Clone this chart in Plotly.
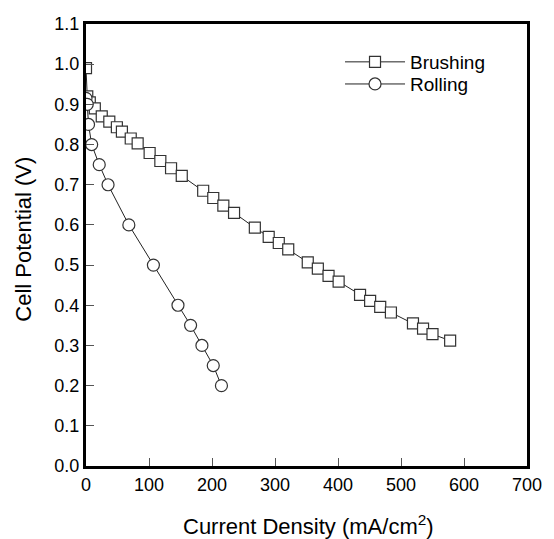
import plotly.graph_objects as go

brush_x = [0, 2, 6, 14, 25, 37, 49, 57, 71, 82, 101, 118, 135, 152, 186, 202, 218, 235,
           268, 290, 306, 321, 352, 368, 385, 401, 435, 451, 467, 484, 519, 535, 550, 578]
brush_y = [0.99, 0.92, 0.905, 0.89, 0.87, 0.857, 0.843, 0.832, 0.815, 0.803, 0.779, 0.759,
           0.741, 0.722, 0.685, 0.667, 0.648, 0.630, 0.593, 0.570, 0.555, 0.539, 0.507,
           0.491, 0.473, 0.459, 0.426, 0.411, 0.396, 0.382, 0.355, 0.342, 0.328, 0.312]

roll_x = [0, 2, 4, 9, 21, 35, 68, 107, 146, 166, 184, 202, 215]
roll_y = [0.915, 0.90, 0.85, 0.80, 0.75, 0.70, 0.60, 0.50, 0.40, 0.35, 0.30, 0.25, 0.20]

x_ticks = [0, 100, 200, 300, 400, 500, 600, 700]
y_ticks = [0.0, 0.1, 0.2, 0.3, 0.4, 0.5, 0.6, 0.7, 0.8, 0.9, 1.0, 1.1]

x_title = "Current Density (mA/cm<sup>2</sup>)"
y_title = "Cell Potential (V)"

font = "Liberation Sans, Arial, sans-serif"

fig = go.Figure()
fig.add_trace(go.Scatter(
    x=brush_x, y=brush_y, mode="lines+markers", name="Brushing", legend="legend",
    line=dict(color="#222", width=1),
    marker=dict(symbol="square", size=11, color="white", line=dict(color="#333", width=1.2)),
))
fig.add_trace(go.Scatter(
    x=roll_x, y=roll_y, mode="lines+markers", name="Rolling", legend="legend2",
    line=dict(color="#222", width=1),
    marker=dict(symbol="circle", size=12, color="white", line=dict(color="#333", width=1.2)),
))

axis_common = dict(
    showgrid=False, zeroline=False, showline=True, linecolor="black", linewidth=3,
    mirror=True, ticks="inside", ticklen=8, tickcolor="#555", tickwidth=1,
    tickfont=dict(family=font, size=18, color="black"), automargin=False,
)

leg_common = dict(xanchor="left", yanchor="top", bgcolor="rgba(0,0,0,0)",
                  font=dict(family=font, size=19), itemwidth=60)

fig.update_layout(
    width=546, height=531,
    margin=dict(l=78, r=27, t=16, b=73),
    paper_bgcolor="white", plot_bgcolor="white",
    font=dict(family=font, color="black"),
    showlegend=True,
    legend=dict(x=0.576, y=0.957, **leg_common),
    legend2=dict(x=0.576, y=0.907, **leg_common),
    xaxis=dict(range=[0, 700], tickvals=x_ticks, ticktext=[str(v) for v in x_ticks], **axis_common),
    yaxis=dict(range=[0, 1.1], tickvals=y_ticks, ticktext=[f"{v:.1f}" for v in y_ticks], **axis_common),
    annotations=[
        dict(text=x_title, xref="paper", yref="paper", x=0.505, y=0, xanchor="center",
             yanchor="middle", yshift=-59, showarrow=False, font=dict(family=font, size=22)),
        dict(text=y_title, xref="paper", yref="paper", x=0, y=0.512, xanchor="center",
             yanchor="middle", xshift=-62, textangle=-90, showarrow=False,
             font=dict(family=font, size=22)),
    ],
)

fig.write_html("out.html")
